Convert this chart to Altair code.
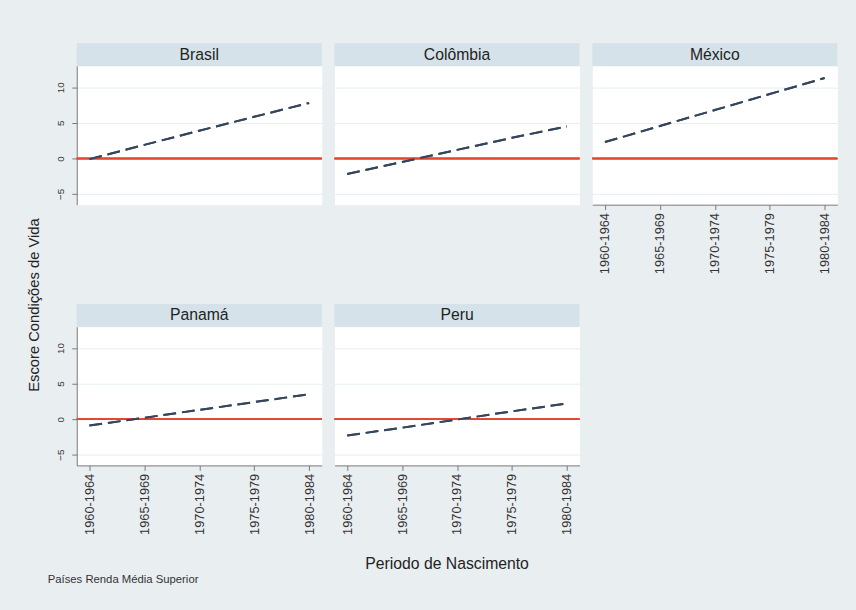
import altair as alt
import pandas as pd

periods = ["1960-1964", "1965-1969", "1970-1974", "1975-1979", "1980-1984"]
brasil = [-0.1, 1.9, 3.9, 5.85, 7.8]
colombia = [-2.2, -0.5, 1.2, 2.9, 4.5]
mexico = [2.3, 4.55, 6.8, 9.05, 11.3]
panama = [-0.9, 0.2, 1.3, 2.4, 3.5]
peru = [-2.3, -1.2, -0.05, 1.1, 2.2]
y_ticks = [-5, 0, 5, 10]

BG = "#e9eef1"
STRIP = "#d5e2e9"
FONT = "Liberation Sans"
W, H = 249, 141
SH = 23
ydom = [-6.5, 13]


def panel(name, vals, show_y, show_x):
    df = pd.DataFrame({"periodo": periods, "escore": vals})
    yscale = alt.Scale(domain=ydom, nice=False, zero=False)
    xscale = alt.Scale(type="point", domain=periods, padding=0.23)
    if show_y:
        yaxis = alt.Axis(title=None, values=y_ticks, labelAngle=-90, labelAlign="center",
                         labelBaseline="bottom", labelFontSize=10, labelColor="#333",
                         tickSize=5, labelPadding=6, grid=True, gridColor="#e6eef1",
                         domainColor="#777", tickColor="#777")
    else:
        yaxis = alt.Axis(title=None, values=y_ticks, labels=False, ticks=False,
                         domain=False, grid=True, gridColor="#e6eef1")
    if show_x:
        xaxis = alt.Axis(title=None, labelAngle=-90, labelFontSize=13, labelColor="#333",
                         tickSize=5, labelPadding=3, domainColor="#777", tickColor="#777",
                         grid=False)
    else:
        xaxis = None

    base = alt.Chart(df)
    rule = base.mark_rule(color="#e5452f", strokeWidth=1.6).encode(
        y=alt.datum(0, scale=yscale)
    )
    line = base.mark_line(color="#34465c", strokeWidth=2, strokeDash=[13, 6]).encode(
        x=alt.X("periodo:O", scale=xscale, axis=xaxis, sort=periods),
        y=alt.Y("escore:Q", scale=yscale, axis=yaxis),
    )
    tdf = pd.DataFrame({"t": [name]})
    strip = alt.Chart(tdf).mark_rect(color=STRIP).encode(
        x=alt.value(0), x2=alt.value(W), y=alt.value(-SH), y2=alt.value(0)
    )
    title = alt.Chart(tdf).mark_text(fontSize=16, color="#222", font=FONT).encode(
        x=alt.value(W / 2), y=alt.value(-SH / 2), text="t:N"
    )
    return alt.layer(line, rule, line, strip, title).properties(width=W, height=H)


row1 = alt.hconcat(
    panel("Brasil", brasil, True, False),
    panel("Colômbia", colombia, False, False),
    panel("México", mexico, False, True),
    spacing=9,
)
row2 = alt.hconcat(
    panel("Panamá", panama, True, True),
    panel("Peru", peru, False, True),
    spacing=9,
)
grid = alt.vconcat(row1, row2, spacing=29).properties(
    title=alt.TitleParams("Periodo de Nascimento", orient="bottom", anchor="middle",
                          fontSize=16, fontWeight="normal", color="#222", font=FONT,
                          offset=22, dx=0)
)

ytitle = alt.Chart(pd.DataFrame({"t": ["Escore Condições de Vida"]})).mark_text(
    angle=270, fontSize=15, color="#222", font=FONT
).encode(x=alt.value(6), y=alt.value(243), text="t:N").properties(
    width=12, height=300, view=alt.ViewBackground(fill="transparent", stroke="transparent")
)

chart = alt.hconcat(ytitle, grid, spacing=12).properties(
    title=alt.TitleParams("Países Renda Média Superior", orient="bottom", anchor="start",
                          fontSize=11.5, fontWeight="normal", color="#333", font=FONT,
                          dx=21, offset=2)
).configure(
    background=BG, font=FONT,
    padding={"left": 27, "top": 38, "right": 17, "bottom": 23},
).configure_view(fill="white", stroke="transparent")

chart.save("out.html", embed_options={"renderer": "svg", "actions": False})
